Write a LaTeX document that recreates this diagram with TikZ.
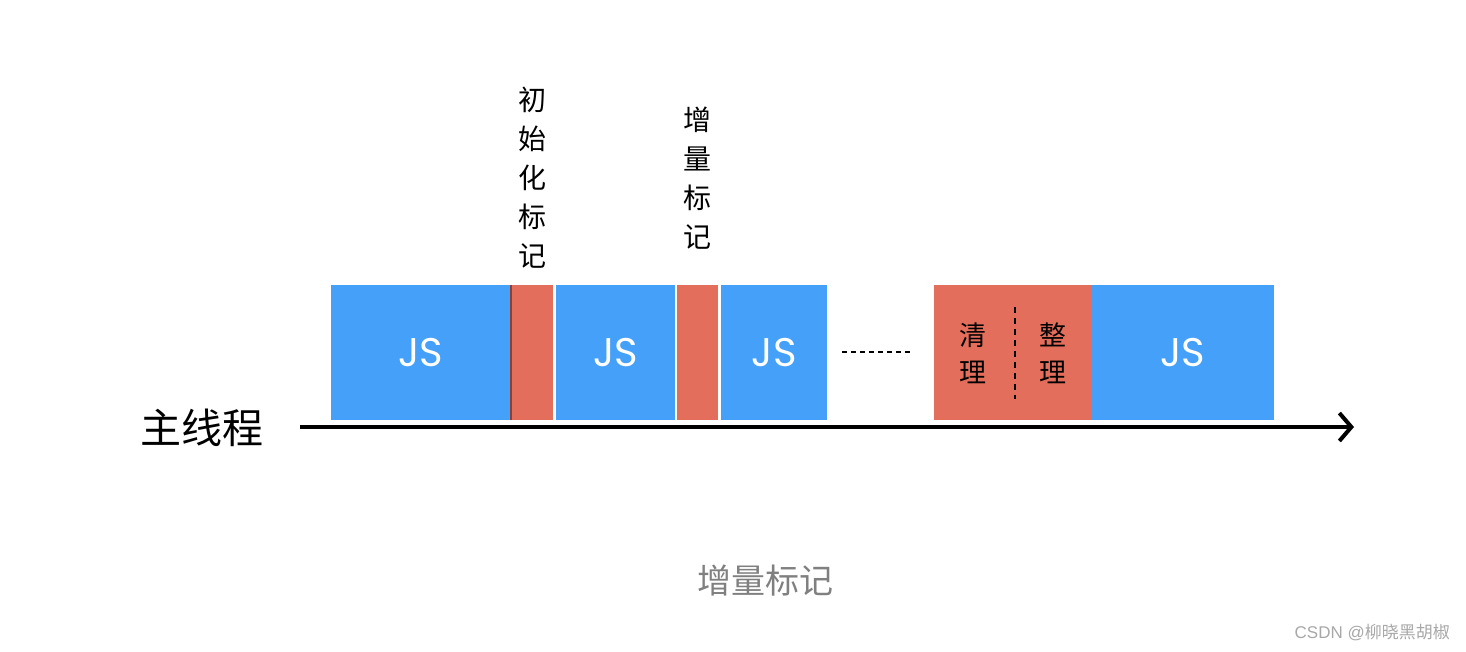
\documentclass[tikz,border=0pt]{standalone}
\usepackage{fontspec}
\setmainfont{Noto Sans CJK SC}
\newfontfamily\cjk{Noto Sans CJK SC}
\newfontfamily\jsfont{Poppins}
\newfontfamily\arialfont{Liberation Sans}
\usetikzlibrary{arrows.meta,decorations.pathmorphing}
\definecolor{jsblue}{HTML}{44A0F8}
\definecolor{gcred}{HTML}{E46E5C}
\definecolor{capgray}{HTML}{808080}
\definecolor{wmgray}{HTML}{A8A8A8}
\begin{document}
\begin{tikzpicture}[x=1pt,y=-1pt,
  blk/.style={rectangle,inner sep=0pt,minimum height=135pt,anchor=north west},
  jsbox/.style={blk,fill=jsblue,text=white,font=\jsfont\fontsize{40}{40}\selectfont},
  gcbox/.style={blk,fill=gcred},
  vlabel/.style={font=\cjk\fontsize{28}{39}\selectfont,align=center,inner sep=0pt,text=black},
  gclabel/.style={font=\cjk\fontsize{27}{37}\selectfont,align=center,inner sep=0pt,text=black},
  axis/.style={line width=4pt,black,-{Straight Barb[length=12pt,width=28pt,line width=4pt]}}]
\useasboundingbox (0,0) rectangle (1466,652);
% blocks
\node[jsbox,minimum width=179pt] (js1) at (331,285) {JS};
\node[gcbox,minimum width=42pt] (m1) at (511,285) {};
\draw[line width=1.5pt,gcred!60!black] (m1.north west) -- (m1.south west);
\node[jsbox,minimum width=119pt] (js2) at (556,285) {JS};
\node[gcbox,minimum width=41pt] (m2) at (677,285) {};
\node[jsbox,minimum width=106pt] (js3) at (721,285) {JS};
\node[gcbox,minimum width=157pt] (gc) at (934,285) {};
\node[jsbox,minimum width=183pt] (js4) at (1091,285) {JS};
% dots
\coordinate (d1) at (842,352);
\coordinate (d2) at (912,352);
\draw[line width=1.6pt,dash pattern=on 5pt off 4pt] (d1) -- (d2);
% gc labels
\node[gclabel] (qingli) at (973,353) {清\\理};
\node[gclabel] (zhengli) at (1053,353) {整\\理};
\coordinate (dl1) at (1015,307);
\coordinate (dl2) at (1015,399);
\draw[line width=1.6pt,dash pattern=on 6pt off 5pt] (dl1) -- (dl2);
% vertical labels
\node[vlabel] (initlbl) at (532,178) {初\\始\\化\\标\\记};
\node[vlabel] (inclbl) at (697,178) {增\\量\\标\\记};
% axis
\node[font=\cjk\fontsize{41}{41}\selectfont,inner sep=0pt] (main) at (202,428) {主线程};
\coordinate (astart) at (300,427);
\coordinate (aend) at (1354,427);
\draw[axis] (astart) -- (aend);
% caption
\node[font=\cjk\fontsize{34}{34}\selectfont,text=capgray,inner sep=0pt] (cap) at (765,581) {增量标记};
\node[font=\fontsize{17}{17}\selectfont,text=wmgray,inner sep=0pt,anchor=east] (wm) at (1450,633) {\arialfont CSDN @\cjk 柳晓黑胡椒};
\end{tikzpicture}
\end{document}
